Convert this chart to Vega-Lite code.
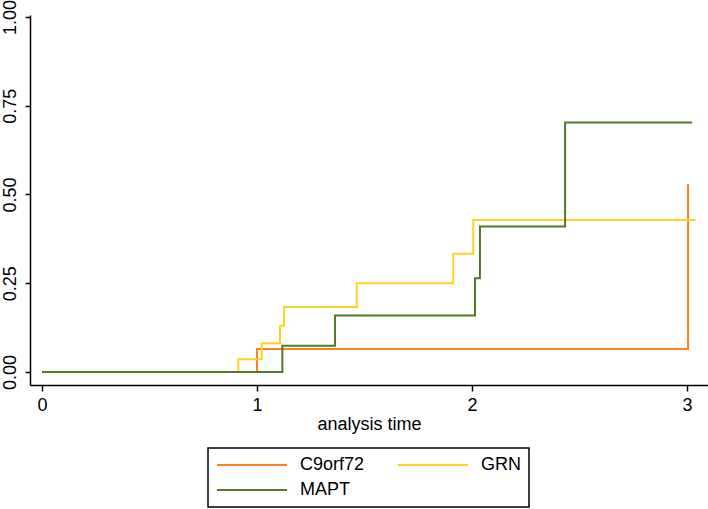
{
  "$schema": "https://vega.github.io/schema/vega-lite/v6.json",
  "width": 678,
  "height": 370,
  "autosize": {"type": "none"},
  "padding": {"left": 30, "top": 15, "right": 0, "bottom": 124},
  "background": "white",
  "config": {
    "view": {"stroke": null},
    "font": "Liberation Sans",
    "legend": {"strokeWidth": 1.5}
  },
  "data": {
    "values": [
      {"group": "C9orf72", "t": 0, "f": 0},
      {"group": "C9orf72", "t": 1.0, "f": 0.065},
      {"group": "C9orf72", "t": 3.005, "f": 0.53},
      {"group": "GRN", "t": 0, "f": 0},
      {"group": "GRN", "t": 0.913, "f": 0.036},
      {"group": "GRN", "t": 1.022, "f": 0.081},
      {"group": "GRN", "t": 1.107, "f": 0.13},
      {"group": "GRN", "t": 1.126, "f": 0.183},
      {"group": "GRN", "t": 1.464, "f": 0.25},
      {"group": "GRN", "t": 1.913, "f": 0.333},
      {"group": "GRN", "t": 2.006, "f": 0.428},
      {"group": "GRN", "t": 3.04, "f": 0.428},
      {"group": "MAPT", "t": 0, "f": 0},
      {"group": "MAPT", "t": 1.118, "f": 0.074},
      {"group": "MAPT", "t": 1.363, "f": 0.159},
      {"group": "MAPT", "t": 2.014, "f": 0.264},
      {"group": "MAPT", "t": 2.037, "f": 0.41},
      {"group": "MAPT", "t": 2.433, "f": 0.703},
      {"group": "MAPT", "t": 3.023, "f": 0.703}
    ]
  },
  "mark": {"type": "line", "interpolate": "step-after", "strokeWidth": 2},
  "encoding": {
    "x": {
      "field": "t", "type": "quantitative",
      "scale": {"domain": [-0.0558, 3.0977], "nice": false, "zero": false},
      "axis": {
        "values": [0, 1, 2, 3], "format": "d", "grid": false,
        "title": "analysis time",
        "domainColor": "black", "domainWidth": 1.5,
        "tickColor": "black", "tickWidth": 1.5, "tickSize": 6,
        "labelFontSize": 18, "labelColor": "black", "labelPadding": 5,
        "titleFontSize": 18, "titleFontWeight": "normal", "titleColor": "black", "titlePadding": 1
      }
    },
    "y": {
      "field": "f", "type": "quantitative",
      "scale": {"domain": [-0.0366, 1.0056], "nice": false, "zero": false},
      "axis": {
        "values": [0, 0.25, 0.5, 0.75, 1], "format": ".2f", "grid": false,
        "title": null,
        "domainColor": "black", "domainWidth": 1.5,
        "tickColor": "black", "tickWidth": 1.5, "tickSize": 5,
        "labelFontSize": 18, "labelColor": "black", "labelPadding": 6,
        "labelAngle": -90, "labelAlign": "center", "labelBaseline": "bottom"
      }
    },
    "color": {
      "field": "group", "type": "nominal",
      "scale": {"domain": ["C9orf72", "GRN", "MAPT"], "range": ["#f98320", "#ffd21f", "#52792a"]},
      "legend": {
        "title": null,
        "orient": "none", "legendX": 178, "legendY": 433,
        "direction": "horizontal", "columns": 2,
        "symbolType": "stroke", "symbolSize": 4900, "symbolStrokeWidth": 2,
        "clipHeight": 18,
        "labelFontSize": 18, "labelColor": "black", "labelOffset": 12,
        "columnPadding": 32, "rowPadding": 7,
        "padding": 8, "strokeColor": "black",
        "fillColor": "white"
      }
    }
  }
}
